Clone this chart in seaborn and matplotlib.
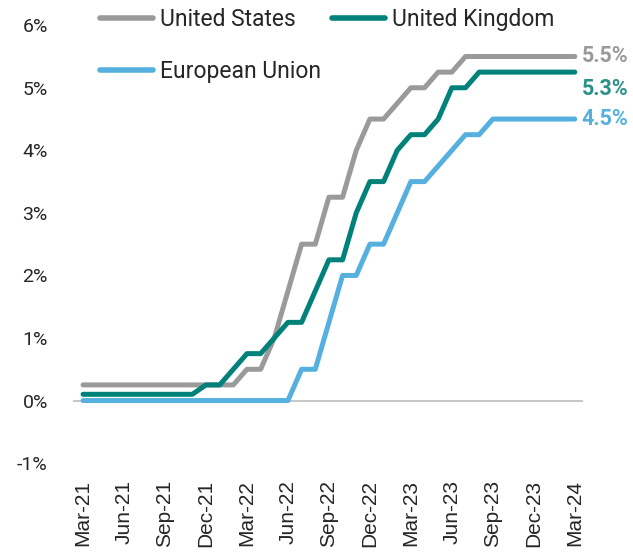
import matplotlib
matplotlib.use("Agg")
import matplotlib.pyplot as plt
import pandas as pd
import seaborn as sns

# monthly policy rates, Mar-21 .. Mar-24 (month end, %)
months = pd.date_range("2021-03-01", "2024-03-01", freq="MS")
us_rate = [0.25] * 12 + [0.5, 0.5, 1.0, 1.75, 2.5, 2.5, 3.25, 3.25, 4.0, 4.5,
                         4.5, 4.75, 5.0, 5.0, 5.25, 5.25] + [5.5] * 9
uk_rate = [0.1] * 9 + [0.25, 0.25, 0.5, 0.75, 0.75, 1.0, 1.25, 1.25, 1.75, 2.25,
                       2.25, 3.0, 3.5, 3.5, 4.0, 4.25, 4.25, 4.5, 5.0, 5.0] + [5.25] * 8
eu_rate = [0.0] * 16 + [0.5, 0.5, 1.25, 2.0, 2.0, 2.5, 2.5, 3.0, 3.5, 3.5, 3.75,
                        4.0, 4.25, 4.25] + [4.5] * 7

regions = ["United States", "United Kingdom", "European Union"]
colors = {"United States": "#9a9a9a", "United Kingdom": "#00827a", "European Union": "#55b0e0"}
label_colors = {"United States": "#9a9a9a", "United Kingdom": "#2a9088", "European Union": "#55b0e0"}
end_labels = {"United States": "5.5%", "United Kingdom": "5.3%", "European Union": "4.5%"}
label_offsets = {"United States": 0, "United Kingdom": -12, "European Union": 0}

y_ticks = [-1, 0, 1, 2, 3, 4, 5, 6]
y_labels = ["-1%", "0%", "1%", "2%", "3%", "4%", "5%", "6%"]
x_tick_idx = list(range(0, 37, 3))
x_labels = [m.strftime("%b-%y") for m in months[::3]]

idx = list(range(len(months)))
df = pd.concat([
    pd.DataFrame({"idx": idx, "rate": us_rate, "region": "United States"}),
    pd.DataFrame({"idx": idx, "rate": uk_rate, "region": "United Kingdom"}),
    pd.DataFrame({"idx": idx, "rate": eu_rate, "region": "European Union"}),
])

sns.set_theme(style="white")
plt.rcParams["font.family"] = ["Roboto", "DejaVu Sans"]

fig = plt.figure(figsize=(6.33, 5.6), dpi=100)
ax = fig.add_axes([0.115, 0.173, 0.806, 0.782])

ax.axhline(0, color="#bdbdbd", lw=1.2, zorder=1)
sns.lineplot(data=df, x="idx", y="rate", hue="region", hue_order=regions,
             palette=colors, linewidth=3.6, legend=False, ax=ax,
             solid_capstyle="round", solid_joinstyle="round", zorder=3)

for name, vals in zip(regions, [us_rate, uk_rate, eu_rate]):
    ax.annotate(end_labels[name], xy=(idx[-1], vals[-1]),
                xytext=(5, label_offsets[name]), textcoords="offset points",
                ha="left", va="center", fontsize=15.5, fontweight="bold",
                color=label_colors[name], annotation_clip=False)

ax.set_xlim(-0.75, 36.6)
ax.set_ylim(-1, 6)
ax.set_yticks(y_ticks)
ax.set_yticklabels(y_labels, fontsize=14)
ax.set_xticks(x_tick_idx)
ax.set_xticklabels(x_labels, rotation=90, fontsize=15, family="Liberation Sans")
ax.tick_params(axis="y", length=0, pad=18)
ax.tick_params(axis="x", length=0, pad=12)
ax.set_xlabel("")
ax.set_ylabel("")
for s in ax.spines.values():
    s.set_visible(False)

handles = [plt.Line2D([], [], color=colors[r], lw=4, solid_capstyle="round") for r in regions]
order = [0, 2, 1]
fig.legend([handles[i] for i in order], [regions[i] for i in order],
           loc="upper left", bbox_to_anchor=(0.158, 0.985), ncol=2, frameon=False,
           fontsize=16.5, handlelength=2.3, handletextpad=0.3, columnspacing=0.5,
           labelspacing=1.25, borderpad=0, borderaxespad=0)

fig.savefig("out.png", dpi=100, facecolor="white")
